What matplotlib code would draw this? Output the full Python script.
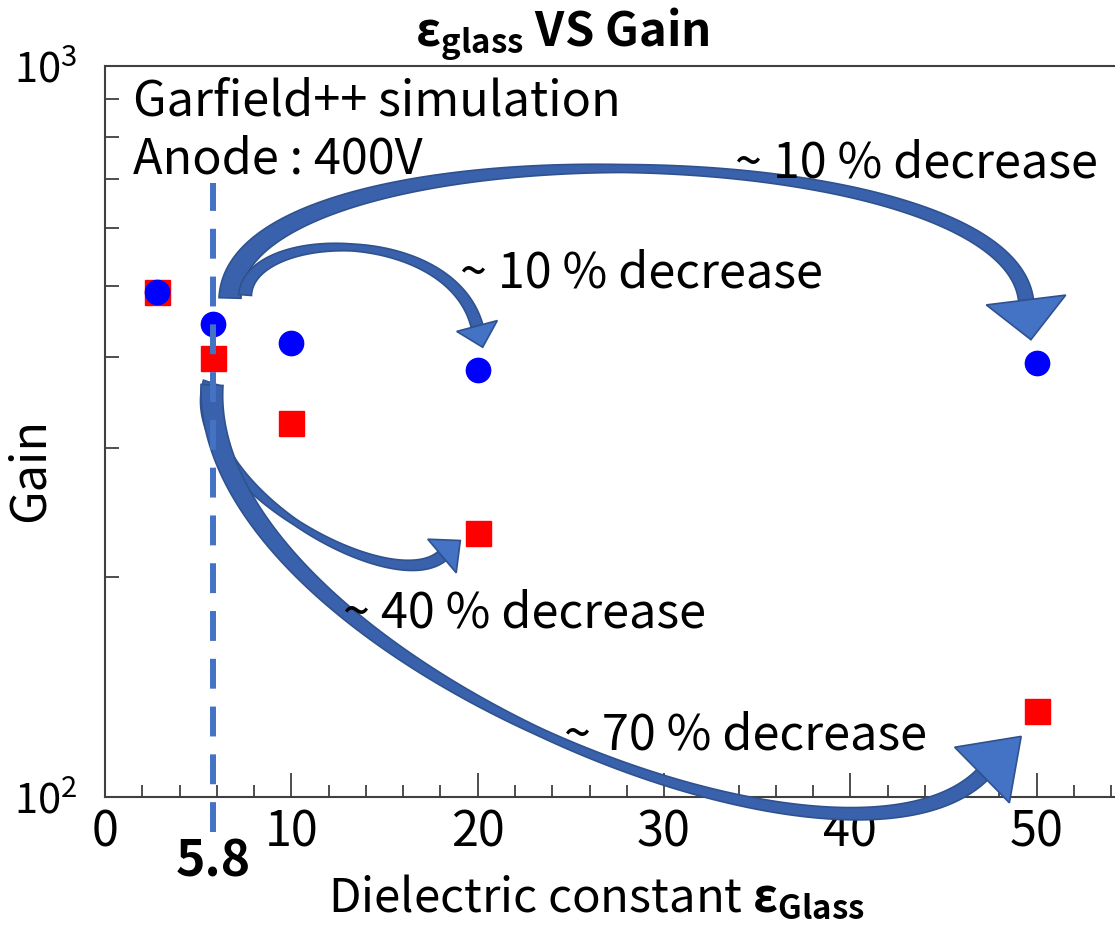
import numpy as np
import matplotlib
matplotlib.use('Agg')
import matplotlib.pyplot as plt
from matplotlib.patches import Polygon
from matplotlib.ticker import MultipleLocator, FixedLocator, NullFormatter

# datos
eps_glass = [2.8, 5.8, 10, 20, 50]
gain_circle = [490, 444, 418, 384, 392]
gain_square = [490, 399, 325, 230, 131]
eps_ref = 5.8

notes = ['Garfield++ simulation', 'Anode : 400V']
decrease_labels = ['~ 10 % decrease', '~ 10 % decrease', '~ 40 % decrease', '~ 70 % decrease']

W, H = 1115, 926
FONT = ['Noto Sans CJK JP', 'DejaVu Sans']
plt.rcParams['font.family'] = FONT
plt.rcParams['mathtext.fontset'] = 'custom'
plt.rcParams['mathtext.rm'] = 'Noto Sans CJK JP'
plt.rcParams['mathtext.it'] = 'Noto Sans CJK JP'
plt.rcParams['mathtext.bf'] = 'Noto Sans CJK JP:bold'

AXC = '#404040'
ARROW_FILL = '#4472C4'
ARROW_TAIL = '#3A62AC'
ARROW_EDGE = '#2F528F'


def fig_xy(px, py):
    return px / W, 1 - py / H


def curved_arrow(ax, pts, widths, head_len, head_w):
    # flecha curva estilo powerpoint: cola con bezier cubica + cabeza triangular
    P = np.array(pts, float)
    t = np.linspace(0, 1, 150)[:, None]
    B = (1-t)**3*P[0] + 3*(1-t)**2*t*P[1] + 3*(1-t)*t**2*P[2] + t**3*P[3]
    D = 3*(1-t)**2*(P[1]-P[0]) + 6*(1-t)*t*(P[2]-P[1]) + 3*t**2*(P[3]-P[2])
    D = D / np.linalg.norm(D, axis=1)[:, None]
    N = np.column_stack([-D[:, 1], D[:, 0]])
    w = np.interp(t[:, 0], [0, 0.5, 1], widths)[:, None] / 2
    tail = np.vstack([B + N*w, (B - N*w)[::-1]])
    end, d, n = B[-1], D[-1], N[-1]
    head = np.array([end + n*head_w/2, end + d*head_len, end - n*head_w/2])
    for verts, fc in [(tail, ARROW_TAIL), (head, ARROW_FILL)]:
        v = np.column_stack([verts[:, 0] / W, 1 - verts[:, 1] / H])
        ax.add_patch(Polygon(v, closed=True, transform=ax.figure.transFigure,
                             facecolor=fc, edgecolor=ARROW_EDGE, linewidth=1.2,
                             clip_on=False, zorder=4))


fig = plt.figure(figsize=(W/100, H/100), dpi=100)
ax = fig.add_axes([105/W, 129/H, 1010/W, 731/H])

ax.plot(eps_glass, gain_square, 's', color='#FF0000', markersize=18, zorder=3)
ax.plot(eps_glass, gain_circle, 'o', color='#0000FF', markersize=17.5, zorder=3)

ax.set_yscale('log')
ax.set_xlim(0, 54.2)
ax.set_ylim(100, 1000)

ax.xaxis.set_major_locator(MultipleLocator(10))
ax.xaxis.set_minor_locator(MultipleLocator(2))
ax.yaxis.set_minor_locator(FixedLocator([200, 300, 400, 500, 600, 700, 800, 900]))
ax.yaxis.set_minor_formatter(NullFormatter())
ax.tick_params(axis='x', which='major', direction='in', length=17, width=1.3,
               color=AXC, labelsize=35, pad=8)
ax.tick_params(axis='x', which='minor', direction='in', length=9, width=1.3, color=AXC)
ax.tick_params(axis='y', which='both', direction='in', length=10, width=1.3,
               color=AXC, labelsize=30, pad=20)
ax.spines['right'].set_visible(False)
for s in ['left', 'bottom', 'top']:
    ax.spines[s].set_color(AXC)
    ax.spines[s].set_linewidth(1.5)

# linea de referencia en 5.8
ax.axvline(eps_ref, ymin=-0.048, ymax=0.84, color=ARROW_FILL, lw=4.3,
           dashes=(5, 3), clip_on=False, zorder=5)
ax.annotate(f'{eps_ref}', xy=(eps_ref, 0), xycoords=('data', 'axes fraction'),
            xytext=(0, -47), textcoords='offset points', ha='center', va='center',
            fontsize=36, fontweight='bold')

ax.set_ylabel('Gain', fontsize=35)
ax.yaxis.label.set_va('center')
ax.yaxis.set_label_coords(-0.074, 0.447)
ax.set_xlabel(r'Dielectric constant $\mathbf{ε_{Glass}}$', fontsize=34)
ax.xaxis.label.set_va('baseline')
ax.xaxis.set_label_coords(0.487, -0.157)

fig.text(*fig_xy(562, 46), r'$\mathbf{ε_{glass}}$ VS Gain', ha='center',
         va='baseline', fontsize=34, fontweight='bold')

fig.text(*fig_xy(133, 115), notes[0], ha='left', va='baseline', fontsize=35)
fig.text(*fig_xy(133, 173), notes[1], ha='left', va='baseline', fontsize=35)

label_pos = [(735, 177), (460, 287), (343, 628), (564, 750)]
for txt, (px, py) in zip(decrease_labels, label_pos):
    fig.text(*fig_xy(px, py), txt, ha='left', va='baseline', fontsize=35)

# flechas
curved_arrow(ax, [(230, 298), (235, 120), (1005, 130), (1026, 300)], (22, 8, 15), 40, 80)
curved_arrow(ax, [(245, 295), (250, 228), (450, 225), (477, 326)], (13, 7, 12), 22, 42)
curved_arrow(ax, [(212, 383), (180, 480), (390, 600), (442, 556)], (18, 6, 12), 24, 44)
curved_arrow(ax, [(212, 385), (200, 650), (840, 915), (982, 775)], (22, 8, 15), 55, 78)

plt.savefig('out.png', dpi=100)
